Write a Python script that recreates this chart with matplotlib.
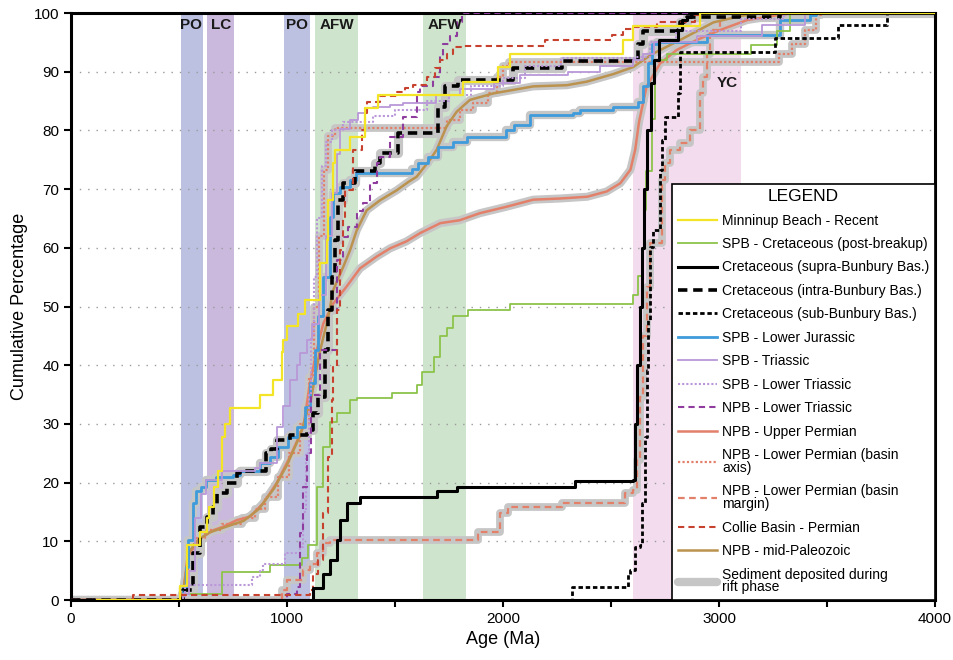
import matplotlib
matplotlib.use("Agg")
import matplotlib.pyplot as plt
from matplotlib.lines import Line2D

plt.rcParams['font.family'] = ['Liberation Sans', 'DejaVu Sans']

# shaded age bands (Ma)
band_names = ["PO", "LC", "PO", "AFW", "AFW", "YC"]
band_start = [510, 630, 985, 1130, 1630, 2600]
band_end = [610, 755, 1105, 1330, 1830, 3100]
band_colors = ["#bcc1e2", "#cbb9dd", "#bcc1e2", "#cfe4cc", "#cfe4cc", "#f2dcee"]
band_label_x = [557, 693, 1045, 1230, 1730, 3040]
band_label_y = [98, 98, 98, 98, 98, 88]

# cumulative curves: age (Ma), cumulative percentage
minninup_age = [120, 505, 537, 597, 628, 640, 664, 681, 698, 713, 736, 875, 937, 975, 983, 999,
                1052, 1083, 1153, 1184, 1191, 1214, 1222, 1292, 1361, 1423, 1816, 1978, 2032,
                2557, 2603, 2912, 4000]
minninup_pct = [0, 2.4, 9.4, 11.6, 14, 15.9, 19.3, 22, 27.8, 30, 32.7, 34.9, 37.5, 42.3, 44.3, 46.6,
                48.8, 51.1, 57.4, 61.3, 68.1, 74.4, 76.7, 78.9, 83.8, 86, 88.3, 90.8, 93.1,
                95.4, 97.8, 100, 100]

spb_cret_age = [0, 520, 698, 921, 1068, 1099, 1138, 1168, 1199, 1230, 1292, 1323, 1485, 1600,
                1624, 1680, 1708, 1740, 1770, 1840, 2032, 2604, 2625, 2644, 2652, 2660, 2689,
                2704, 2760, 3150, 3270, 3330, 4000]
spb_cret_pct = [0, 1.1, 4.8, 6.0, 7.1, 9.4, 19.3, 26.1, 30.4, 31.8, 34.1, 34.4, 35.3, 36.6,
                38.9, 41.4, 44.9, 46.3, 48.3, 49.4, 50.5, 52, 55.2, 59.9, 66.4, 73, 82,
                92, 93, 94.5, 97, 100, 100]

supra_age = [0, 1099, 1122, 1168, 1199, 1230, 1245, 1276, 1340, 1693, 1786, 2333, 2603, 2612,
             2622, 2632, 2642, 2652, 2666, 2684, 2700, 2720, 2810, 2830, 2850, 2870, 4000]
supra_pct = [0, 0, 2, 4.5, 6.8, 10.2, 13.6, 16.5, 17.6, 18.5, 19.3, 20.3, 20.4, 30,
             40, 50, 60, 70, 80, 88, 92, 95.4, 97.1, 98.8, 99.4, 100, 100]

intra_age = [0, 520, 565, 597, 628, 659, 675, 721, 767, 783, 905, 928, 952, 1013, 1091, 1122,
             1145, 1176, 1191, 1207, 1222, 1238, 1261, 1315, 1407, 1431, 1515, 1701, 1732,
             1793, 2048, 2272, 2627, 2650, 2808, 2820, 2851, 3283, 4000]
intra_pct = [0, 1.7, 8, 12.5, 14.2, 15.9, 18.2, 19.9, 21.6, 21.9, 25, 25.8, 27.3, 28.1, 29, 31.8,
             34.6, 42.6, 49.4, 55.1, 61.3, 68.1, 71, 73, 74.4, 76.1, 79.5, 84, 87.5,
             88.6, 90.6, 91.8, 94.8, 96.9, 97.1, 98.4, 99.4, 100, 100]

sub_age = [0, 2318, 2580, 2588, 2611, 2634, 2642, 2658, 2665, 2673, 2681, 2696, 2727, 2735,
           2750, 2812, 2820, 3259, 3550, 3776, 4000]
sub_pct = [0, 2.3, 4.5, 5.1, 9.1, 9.4, 16.5, 27.8, 39.2, 47.7, 60.2, 63, 73.3, 78.4,
           82.3, 86.3, 93.4, 95.7, 98, 100, 100]

jurassic_age = [0, 520, 533, 541, 565, 581, 604, 627, 673, 750, 782, 875, 921, 960, 1006, 1045,
                1083, 1106, 1129, 1145, 1168, 1199, 1214, 1245, 1290, 1320, 1577, 1608, 1654,
                1700, 1770, 1832, 2016, 2049, 2126, 2325, 2357, 2511, 2627, 2650, 2673, 2689,
                2712, 2943, 3283, 3422, 3450, 4000]
jurassic_pct = [0, 2, 5.7, 10.2, 16.5, 18.5, 19.3, 20.4, 21, 21.3, 21.9, 23.3, 24.4, 26.1, 27.8, 29.5,
                32.9, 36.9, 42.6, 48.3, 55.1, 65.3, 69.3, 70.4, 71.6, 72.7, 73.5, 74.4, 75.5,
                77.2, 78.1, 78.9, 80.1, 80.9, 82.6, 82.9, 83.5, 84, 84.9, 87.5, 91.4, 94.8,
                95.1, 96.3, 98.8, 99.7, 100, 100]

triassic_age = [0, 520, 545, 575, 600, 627, 700, 850, 875, 952, 983, 1014, 1045, 1060, 1091, 1117,
                1150, 1180, 1207, 1230, 1245, 1290, 1330, 1361, 1400, 1477, 1538, 1690, 1800,
                1960, 2079, 2300, 2450, 2600, 2650, 2700, 2900, 3200, 3400, 4000]
triassic_pct = [0, 1, 5, 14, 18, 20.4, 22, 22.5, 23.3, 29.5, 33, 37.5, 40, 42, 44.3, 47.1,
                52, 62, 69.3, 76, 80.3, 81.8, 82.9, 83.8, 84, 84.3, 84.6, 86, 87,
                88, 89.4, 90, 91, 92, 93, 95, 96, 98, 100, 100]

low_tri_age = [0, 528, 837, 875, 890, 990, 1060, 1075, 1090, 1100, 1110, 1125, 1140, 1160, 1180,
               1210, 1260, 1400, 1500, 1650, 1750, 1850, 2000, 2100, 2270, 2610, 2680, 2800,
               3100, 3300, 4000]
low_tri_pct = [0, 2.5, 4, 5.1, 6.2, 8, 9.1, 15, 25, 35, 45, 55, 65, 74, 78,
               80, 81.5, 82.5, 83.5, 85, 86, 87.5, 89, 91, 92.3, 92.5, 95, 97,
               99, 100, 100]

npb_tri_age = [0, 999, 1045, 1060, 1075, 1091, 1110, 1153, 1230, 1261, 1284, 1323, 1353, 1384,
               1415, 1431, 1477, 1538, 1600, 1616, 1677, 1708, 1724, 1755, 1786, 1809, 4000]
npb_tri_pct = [0, 1.1, 2.3, 11.4, 19.3, 25, 35, 42.6, 57.9, 61.9, 63.6, 66.2, 67.6, 71,
               74.4, 75.5, 78.9, 82.3, 86.6, 87.5, 89.1, 92.6, 94.8, 96, 98.4, 100, 100]

up_perm_age = [0, 505, 520, 540, 570, 600, 660, 705, 767, 829, 890, 952, 1014, 1076, 1106, 1138, 1168,
               1214, 1276, 1338, 1415, 1477, 1553, 1616, 1710, 1800, 1893, 2017, 2140, 2265,
               2390, 2480, 2543, 2590, 2612, 2630, 2665, 2727, 2804, 2897, 3005, 3130, 3283,
               3350, 4000]
up_perm_pct = [0, 0, 1.5, 7.4, 9.1, 10.5, 11.9, 12.5, 13.6, 14.2, 16.5, 19.9, 24.4, 29.5, 36.9, 42.6, 47.1,
               50.5, 53.4, 56.5, 58.5, 59.9, 61.1, 62.5, 64.2, 64.7, 65.9, 67, 68.2, 68.4,
               68.7, 69.6, 71, 73.3, 76.7, 81.5, 87.5, 91.4, 93.7, 95.4, 97.1, 98.8, 99.7,
               100, 100]

axis_age = [0, 520, 540, 570, 620, 700, 790, 850, 900, 960, 1010, 1060, 1100, 1125, 1150, 1170,
            1190, 1220, 1677, 1740, 1800, 1860, 1930, 1970, 2000, 2030, 3244, 3280, 3340,
            3400, 3450, 3470, 4000]
axis_pct = [0, 2, 8, 10.5, 12, 13, 14, 15.5, 17.5, 21, 25, 30, 38, 50, 62, 73.3,
            79, 80.4, 80.4, 81.8, 83.5, 84.6, 86.3, 89.1, 91, 91.6, 91.6, 93.1, 94.8,
            97.1, 99.7, 100, 100]

margin_age = [0, 975, 999, 1076, 1106, 1138, 1168, 1200, 1878, 1885, 1986, 2024, 2273, 2565,
              2603, 2619, 2634, 2650, 2665, 2681, 2735, 2750, 2773, 2820, 2866, 2912, 2928,
              2943, 2959, 3005, 4000]
margin_pct = [0, 1.7, 3.4, 5.1, 6.2, 8, 9.7, 10.2, 10.2, 11.6, 14.8, 15.9, 16.6, 18.2,
              18.7, 23.9, 34.6, 44.9, 53.4, 60.8, 71.6, 74.4, 76.7, 77.8, 80.1, 86.3, 89.1,
              93.1, 97.1, 100, 100]

collie_age = [0, 287, 1106, 1122, 1145, 1168, 1191, 1207, 1214, 1230, 1245, 1261, 1268, 1307,
              1346, 1361, 1369, 1431, 1508, 1546, 1585, 1647, 1685, 1708, 1739, 1770, 1809,
              2195, 2503, 2557, 2603, 2712, 2889, 2912, 4000]
collie_pct = [0, 0.9, 1.7, 4.5, 6.8, 14.8, 24.4, 34.1, 39.7, 49.4, 59.6, 65.3, 69.8, 76.7,
              80.1, 82.9, 84.9, 85.8, 86.6, 87.2, 87.7, 89.1, 90.6, 92, 93.1, 94.2, 94.4,
              95.4, 96.3, 97.2, 97.6, 98.4, 99.7, 100, 100]

midpal_age = [0, 505, 520, 545, 580, 640, 720, 800, 870, 940, 1000, 1060, 1110, 1150, 1190, 1214, 1261,
              1292, 1323, 1369, 1431, 1508, 1561, 1600, 1662, 1693, 1739, 1786, 1847, 1955,
              2140, 2295, 2387, 2511, 2603, 2650, 2696, 2820, 2974, 3100, 3200, 4000]
midpal_pct = [0, 0, 1.5, 8, 10, 11.5, 12.5, 13.5, 15.5, 19, 23, 28, 34, 42, 48, 52.8, 56.8,
              59.6, 63, 66.4, 68.1, 69.8, 71.2, 72.1, 75, 76.7, 80.7, 83.2, 85.2, 86.3,
              87.5, 87.7, 88.3, 89.6, 90.8, 92, 93.1, 95.4, 98.4, 99.5, 100, 100]

legend_labels = [
    "Minninup Beach - Recent",
    "SPB - Cretaceous (post-breakup)",
    "Cretaceous (supra-Bunbury Bas.)",
    "Cretaceous (intra-Bunbury Bas.)",
    "Cretaceous (sub-Bunbury Bas.)",
    "SPB - Lower Jurassic",
    "SPB - Triassic",
    "SPB - Lower Triassic",
    "NPB - Lower Triassic",
    "NPB - Upper Permian",
    "NPB - Lower Permian (basin\naxis)",
    "NPB - Lower Permian (basin\nmargin)",
    "Collie Basin - Permian",
    "NPB - mid-Paleozoic",
    "Sediment deposited during\nrift phase",
]

YELLOW = "#f3e525"
GREEN = "#8cc34a"
BLACK = "#000000"
BLUE = "#3f9bdb"
LILAC = "#b997d8"
PURPLE = "#8e3c9e"
SALMON = "#e3806a"
RED = "#c7412f"
BROWN = "#bb924e"
HALO = "#c6c6c6"

# (ages, pcts, color, linewidth, linestyle, rift halo, label index, step)
series = [
    (margin_age, margin_pct, SALMON, 1.6, (0, (3, 2)), True, 11, True),
    (axis_age, axis_pct, SALMON, 1.6, (0, (1, 1)), True, 10, True),
    (up_perm_age, up_perm_pct, SALMON, 1.8, "-", True, 9, False),
    (midpal_age, midpal_pct, BROWN, 1.8, "-", True, 13, False),
    (jurassic_age, jurassic_pct, BLUE, 2.0, "-", True, 5, True),
    (intra_age, intra_pct, BLACK, 2.6, (0, (2.6, 1.6)), True, 3, True),
    (spb_cret_age, spb_cret_pct, GREEN, 1.3, "-", False, 1, True),
    (triassic_age, triassic_pct, LILAC, 1.3, "-", False, 6, True),
    (low_tri_age, low_tri_pct, LILAC, 1.5, (0, (1, 1)), False, 7, True),
    (npb_tri_age, npb_tri_pct, PURPLE, 1.5, (0, (3, 2)), False, 8, True),
    (collie_age, collie_pct, RED, 1.5, (0, (3, 2)), False, 12, True),
    (sub_age, sub_pct, BLACK, 2.0, (0, (1.6, 1)), False, 4, True),
    (supra_age, supra_pct, BLACK, 2.2, "-", False, 2, True),
    (minninup_age, minninup_pct, YELLOW, 1.6, "-", False, 0, True),
]

fig = plt.figure(figsize=(9.54, 6.6), dpi=100)
ax = fig.add_axes([0.0744, 0.0909, 0.9057, 0.8894])

for name, s, e, c, lx, ly in zip(band_names, band_start, band_end, band_colors,
                                 band_label_x, band_label_y):
    ax.axvspan(s, e, color=c, lw=0, zorder=0)
    ax.text(lx, ly, name, ha="center", va="center", fontsize=11,
            fontweight="bold", color="#1a1a1a", zorder=6)

for yv in range(10, 100, 10):
    ax.axhline(yv, color="#9a9a9a", lw=1.0, ls=(0, (1, 5)), zorder=1)

handles = [None] * len(legend_labels)
for ages, pcts, col, lw, ls, halo, idx, step in series:
    ds = "steps-post" if step else "default"
    if halo:
        ax.plot(ages, pcts, color=HALO, lw=lw + 4, drawstyle=ds,
                solid_capstyle="round", solid_joinstyle="round", zorder=2)
    ax.plot(ages, pcts, color=col, lw=lw, ls=ls, drawstyle=ds, zorder=3)
    handles[idx] = Line2D([], [], color=col, lw=lw, ls=ls)
handles[14] = Line2D([], [], color=HALO, lw=6, solid_capstyle="round")

ax.set_xlim(0, 4000)
ax.set_ylim(0, 100)
ax.set_xticks(range(0, 4001, 500))
ax.set_xticklabels([str(v) if v % 1000 == 0 else "" for v in range(0, 4001, 500)])
ax.set_yticks(range(0, 101, 10))
ax.tick_params(axis="both", labelsize=11, width=1.5, length=5, direction="out")
for sp in ax.spines.values():
    sp.set_linewidth(2.2)

ax.set_xlabel("Age (Ma)", fontsize=13)
ax.set_ylabel("Cumulative Percentage", fontsize=13)

leg = ax.legend(handles, legend_labels, loc="lower right", bbox_to_anchor=(1, 0),
                borderaxespad=0, fontsize=10, title="LEGEND", title_fontsize=12.5,
                handlelength=2.8, handletextpad=0.4, labelspacing=0.68,
                fancybox=False, framealpha=1, edgecolor="black")
for t in leg.get_texts():
    t.set_linespacing(0.9)
leg.get_frame().set_linewidth(1.2)
leg.set_zorder(10)

fig.savefig("out.png", dpi=100)
